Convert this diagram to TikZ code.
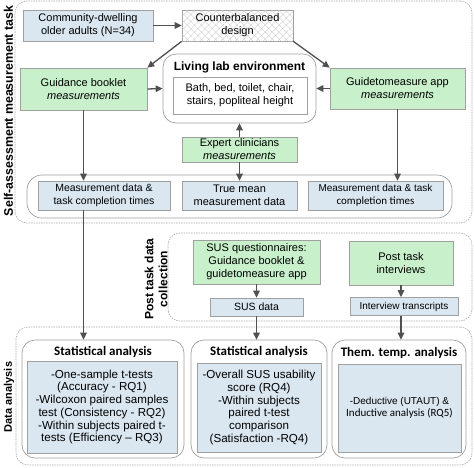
\documentclass[tikz,border=0pt]{standalone}
\usepackage{fontspec}
\setmainfont{Liberation Sans}
\newfontfamily\carl{Carlito}
\usetikzlibrary{arrows.meta,patterns.meta}
\definecolor{bluef}{HTML}{DAE7F1}
\definecolor{greenf}{HTML}{C8F0CA}
\definecolor{bordc}{HTML}{A0A0A0}
\definecolor{arrc}{HTML}{505050}
\definecolor{regc}{HTML}{ABABAB}
\begin{document}
\begin{tikzpicture}[x=1pt,y=-1pt,
  every node/.style={font=\fontsize{11}{13}\selectfont, inner sep=0pt, align=center},
  bluebox/.style={draw=bordc, line width=0.6pt, fill=bluef},
  greenbox/.style={draw=bordc, line width=0.6pt, fill=greenf},
  whitebox/.style={draw=bordc, line width=0.6pt, fill=white},
  hatchbox/.style={draw=bordc, line width=0.6pt, fill=white,
     postaction={pattern={Hatch[angle=45,distance=5pt,line width=0.35pt]}, pattern color=gray!40}},
  region/.style={draw=regc, line width=0.6pt, dash pattern=on 1.5pt off 1pt, rounded corners=12pt},
  panel/.style={draw=bordc, line width=0.7pt, rounded corners=13pt},
  sidelabel/.style={rotate=90, font=\bfseries\fontsize{#1}{14}\selectfont},
  paneltitle/.style={font=\carl\bfseries\fontsize{13}{15}\selectfont},
  smalltext/.style={font=\fontsize{10}{12.5}\selectfont},
  stattext/.style={font=\fontsize{11.6}{12.7}\selectfont},
  arr/.style={draw=arrc, line width=1.3pt, -{Triangle[length=7pt,width=6.5pt]}},
]
\useasboundingbox (0,0) rectangle (474,467);

% regions
\node[region, minimum width=457, minimum height=222] (reg1) at (243.5,112) {};
\node[region, minimum width=304, minimum height=88] (reg2) at (320,277) {};
\node[region, minimum width=456, minimum height=138] (reg3) at (244,396) {};

\node[sidelabel=12.4] (lab1) at (8.5,111) {Self-assessment measurement task};
\node[sidelabel=12] (lab2) at (156,279) {Post task data\\collection};
\node[sidelabel=11] (lab3) at (9,397) {Data analysis};

% top row
\node[bluebox, minimum width=130, minimum height=31] (comm) at (88,25.5) {Community-dwelling\\older adults (N=34)};
\node[hatchbox, minimum width=111, minimum height=31] (counter) at (237.5,25.5) {Counterbalanced\\design};

\node[greenbox, minimum width=127, minimum height=42] (guid) at (83.5,89) {Guidance booklet\\\textit{measurements}};
\node[greenbox, minimum width=135, minimum height=41] (app) at (397.5,88.5) {Guidetomeasure app\\\textit{measurements}};

\node[panel, fill=white, minimum width=153, minimum height=69] (lab) at (239.5,88.5) {};
\node[font=\bfseries\fontsize{12}{14}\selectfont] (labt) at (239.5,67) {Living lab environment};
\node[whitebox, minimum width=134, minimum height=37] (labin) at (240,95.5) {Bath, bed, toilet, chair,\\stairs, popliteal height};

\node[greenbox, minimum width=115, minimum height=25] (expert) at (239.5,149.5) {Expert clinicians\\\textit{measurements}};

% measurement data container
\node[panel, rounded corners=15pt, minimum width=425, minimum height=43] (mcont) at (239.5,196.5) {};
\node[bluebox, font=\fontsize{10.5}{13}\selectfont, minimum width=132, minimum height=29] (m1) at (104,195.5) {Measurement data \&\\task completion times};
\node[bluebox, minimum width=115, minimum height=29] (m2) at (239.5,195.5) {True mean\\measurement data};
\node[bluebox, smalltext, minimum width=135, minimum height=29] (m3) at (375.5,195.5) {Measurement data \& task\\{\carl\fontsize{11}{12.5}\selectfont completion times}};

% post task
\node[greenbox, minimum width=127, minimum height=44] (sus) at (256.5,262) {SUS questionnaires:\\Guidance booklet \&\\guidetomeasure app};
\node[bluebox, font=\fontsize{10.5}{12}\selectfont, minimum width=93, minimum height=18] (susdata) at (256.5,307) {SUS data};
\node[greenbox, minimum width=104, minimum height=44] (post) at (401,263) {Post task\\interviews};
\node[bluebox, smalltext, minimum width=108, minimum height=18] (trans) at (404,306.5) {Interview transcripts};

% data analysis
\node[panel, minimum width=162, minimum height=118] (st1) at (103,399) {};
\node[paneltitle] (st1t) at (103,352) {Statistical analysis};
\node[bluebox, stattext, minimum width=150, minimum height=92] (st1in) at (102,407) {-One-sample t-tests\\(Accuracy - RQ1)\\-Wilcoxon paired samples\\test (Consistency - RQ2)\\-Within subjects paired t-\\tests (Efficiency -- RQ3)};

\node[panel, minimum width=136, minimum height=118] (st2) at (259,399) {};
\node[paneltitle] (st2t) at (259,352) {Statistical analysis};
\node[bluebox, stattext, minimum width=124, minimum height=89] (st2in) at (259,407.5) {-Overall SUS usability\\score (RQ4)\\-Within subjects\\paired t-test\\comparison\\(Satisfaction -RQ4)};

\node[panel, minimum width=134, minimum height=118] (them) at (399,399) {};
\node[paneltitle] (themt) at (399,353) {Them. temp. analysis};
\node[bluebox, smalltext, minimum width=123, minimum height=88] (themin) at (399.5,408) {-Deductive (UTAUT) \&\\{\carl\fontsize{11}{12.5}\selectfont Inductive analysis (RQ5)}};

% connectors
\draw[arr] (comm) -- (counter);
\draw[arr] (counter.south west) -- (guid.north east);
\draw[arr] (counter.south east) -- (app.north west);
\draw[arr] (guid.east) -- (lab.west);
\draw[arr] (app.west) -- (lab.east);
\draw[arr] (expert.north) -- (lab.south);
\draw[arr] (expert.south) -- (m2.north);
\draw[arr] (guid.south) -- (guid.south |- m1.north);
\draw[arr] (app.south) -- (app.south |- m3.north);
\draw[arr] (guid.south |- m1.south) -- (guid.south |- st1.north);
\draw[arr] (sus.south) -- (susdata.north);
\draw[arr] (post.south) -- (post.south |- trans.north);
\draw[arr] (susdata.south) -- (susdata.south |- st2.north);
\draw[arr] (post.south |- trans.south) -- (post.south |- them.north);
\end{tikzpicture}
\end{document}
